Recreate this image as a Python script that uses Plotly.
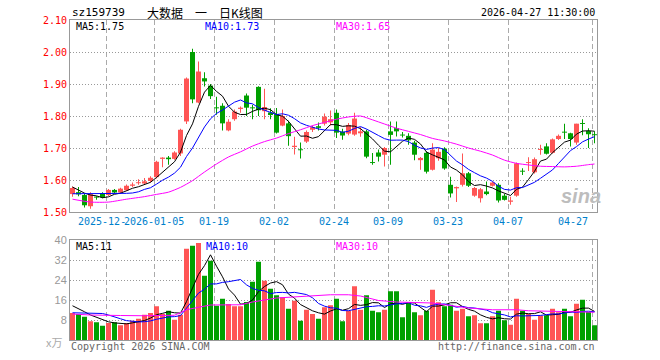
import plotly.graph_objects as go
import pandas as pd

dates = ["2025-12-12","2025-12-15","2025-12-16","2025-12-17","2025-12-18","2025-12-19",
         "2025-12-22","2025-12-23","2025-12-24","2025-12-25","2025-12-26","2025-12-29",
         "2025-12-30","2025-12-31",
         "2026-01-05","2026-01-06","2026-01-07","2026-01-08","2026-01-09","2026-01-12",
         "2026-01-13","2026-01-14","2026-01-15","2026-01-16","2026-01-19","2026-01-20",
         "2026-01-21","2026-01-22","2026-01-23","2026-01-26","2026-01-27","2026-01-28",
         "2026-01-29","2026-01-30",
         "2026-02-02","2026-02-03","2026-02-04","2026-02-05","2026-02-06","2026-02-09",
         "2026-02-10","2026-02-11","2026-02-12","2026-02-13","2026-02-24","2026-02-25",
         "2026-02-26","2026-02-27",
         "2026-03-02","2026-03-03","2026-03-04","2026-03-05","2026-03-06","2026-03-09",
         "2026-03-10","2026-03-11","2026-03-12","2026-03-13","2026-03-16","2026-03-17",
         "2026-03-18","2026-03-19","2026-03-20","2026-03-23","2026-03-24","2026-03-25",
         "2026-03-26","2026-03-27","2026-03-30","2026-03-31",
         "2026-04-01","2026-04-02","2026-04-03","2026-04-07","2026-04-08","2026-04-09",
         "2026-04-10","2026-04-13","2026-04-14","2026-04-15","2026-04-16","2026-04-17",
         "2026-04-20","2026-04-21","2026-04-22","2026-04-23","2026-04-24","2026-04-27"]

open_ = [1.556,1.562,1.553,1.518,1.547,1.559,1.553,1.569,1.561,1.568,
         1.582,1.590,1.589,1.597,1.609,1.666,1.670,1.666,1.683,1.783,
         2.000,1.842,1.918,1.895,1.827,1.832,1.755,1.790,1.822,1.864,
         1.827,1.891,1.815,1.811,1.806,1.770,1.777,1.703,1.696,1.720,
         1.757,1.768,1.776,1.780,1.810,1.751,1.745,1.742,1.746,1.752,
         1.656,1.686,1.679,1.752,1.762,1.741,1.738,1.717,1.662,1.685,
         1.632,1.668,1.698,1.585,1.574,1.585,1.621,1.551,1.543,1.564,
         1.582,1.585,1.551,1.532,1.551,1.628,1.653,1.624,1.694,1.705,
         1.685,1.728,1.751,1.746,1.717,1.777,1.753,1.742]
high = [1.580,1.578,1.558,1.562,1.549,1.562,1.572,1.572,1.576,1.586,
        1.592,1.602,1.606,1.612,1.660,1.671,1.675,1.690,1.760,1.920,
        2.010,1.970,1.937,1.900,1.860,1.840,1.790,1.820,1.830,1.870,
        1.835,1.893,1.885,1.824,1.825,1.820,1.785,1.735,1.717,1.755,
        1.770,1.780,1.808,1.817,1.820,1.760,1.778,1.810,1.765,1.757,
        1.684,1.695,1.703,1.783,1.783,1.750,1.746,1.723,1.672,1.690,
        1.715,1.700,1.702,1.610,1.580,1.683,1.625,1.578,1.575,1.595,
        1.595,1.590,1.556,1.548,1.655,1.637,1.671,1.670,1.710,1.715,
        1.730,1.742,1.776,1.748,1.776,1.790,1.762,1.752]
low = [1.548,1.549,1.514,1.510,1.538,1.543,1.550,1.558,1.558,1.566,
       1.578,1.585,1.585,1.592,1.605,1.640,1.648,1.663,1.675,1.775,
       1.840,1.840,1.892,1.853,1.804,1.755,1.752,1.785,1.810,1.800,
       1.790,1.800,1.790,1.790,1.745,1.768,1.707,1.680,1.667,1.716,
       1.750,1.755,1.770,1.770,1.731,1.726,1.740,1.738,1.735,1.668,
       1.648,1.658,1.642,1.648,1.736,1.733,1.710,1.662,1.632,1.620,
       1.630,1.660,1.632,1.545,1.531,1.580,1.578,1.548,1.530,1.552,
       1.580,1.530,1.536,1.523,1.548,1.616,1.628,1.620,1.679,1.680,
       1.683,1.725,1.728,1.705,1.710,1.740,1.700,1.715]
close = [1.575,1.555,1.521,1.556,1.545,1.546,1.569,1.561,1.573,1.582,
         1.586,1.593,1.596,1.607,1.657,1.670,1.665,1.686,1.757,1.917,
         1.852,1.939,1.908,1.862,1.824,1.777,1.782,1.814,1.826,1.826,
         1.824,1.818,1.828,1.803,1.748,1.800,1.737,1.707,1.693,1.750,
         1.765,1.763,1.798,1.790,1.748,1.739,1.772,1.792,1.752,1.673,
         1.653,1.673,1.700,1.741,1.752,1.739,1.724,1.679,1.669,1.626,
         1.695,1.688,1.636,1.558,1.578,1.621,1.582,1.575,1.571,1.556,
         1.592,1.536,1.538,1.536,1.652,1.626,1.656,1.665,1.697,1.682,
         1.727,1.738,1.748,1.728,1.776,1.775,1.743,1.740]
volume = [10.8,10.4,9.3,7.5,7.1,5.7,6.8,7.1,5.9,6.8,
          7.7,8.5,10.1,10.8,13.5,10.4,11.7,8.1,10.1,36.5,
          37.7,38.8,25.7,31.7,13.7,16.5,14.4,13.5,13.5,15.2,
          23.3,31.3,23.7,20.5,17.9,17.1,12.5,15.7,7.7,12.1,
          10.4,8.5,13.1,13.9,16.5,7.5,11.7,21.5,12.1,17.9,
          11.7,11.1,12.1,19.5,19.5,9.1,14.8,11.1,9.9,11.7,
          20.1,15.1,13.5,14.1,11.7,12.5,9.5,9.9,6.7,6.7,
          9.5,11.7,7.9,6.1,16.5,11.7,10.4,8.1,9.7,9.9,
          12.5,11.1,12.5,9.5,14.5,16.1,11.2,5.9]

ma5_head = [1.578, 1.569, 1.559, 1.553]
ma10_head = [1.557, 1.557, 1.557, 1.557, 1.557, 1.557, 1.557, 1.558, 1.558]
ma30_idx = [0, 3, 6, 9, 12, 14, 16, 18, 20, 22, 24, 26, 28, 30, 32, 34, 36, 38, 40, 42,
            44, 46, 48, 50, 52, 54, 56, 58, 60, 62, 64, 66, 68, 70, 72, 74, 76, 78, 80,
            82, 84, 86, 87]
ma30_val = [1.540, 1.531, 1.531, 1.540, 1.548, 1.555, 1.562, 1.577, 1.598, 1.625, 1.650,
            1.672, 1.688, 1.706, 1.720, 1.731, 1.745, 1.757, 1.770, 1.780, 1.790, 1.797,
            1.800, 1.788, 1.775, 1.762, 1.752, 1.742, 1.730, 1.722, 1.712, 1.700, 1.690,
            1.678, 1.662, 1.652, 1.647, 1.643, 1.642, 1.641, 1.643, 1.648, 1.650]
vma5_head = [13.7, 12.6, 11.3, 10.0]
vma10_head = [10.9, 10.9, 10.9, 10.9, 10.9, 10.6, 10.0, 9.4, 8.5]
vma30_idx = [0, 3, 8, 12, 17, 19, 21, 23, 28, 30, 34, 38, 43, 46, 48, 51, 54, 60, 63,
             66, 70, 74, 76, 82, 87]
vma30_val = [10.4, 10.0, 9.8, 9.7, 9.9, 12.1, 13.1, 14.0, 14.1, 15.2, 16.8, 17.5, 18.1,
             18.1, 17.6, 15.8, 15.2, 14.8, 13.7, 12.8, 12.1, 12.1, 11.7, 11.5, 11.1]

tick_dates = ["2025-12-22", "2026-01-05", "2026-01-19", "2026-02-02", "2026-02-24",
              "2026-03-09", "2026-03-23", "2026-04-07", "2026-04-27"]
# the first label is partly hidden behind the second one in the original
tick_labels = ["2025-12-", "2026-01-05", "01-19", "02-02", "02-24",
               "03-09", "03-23", "04-07", "04-27"]
price_ticks = [1.50, 1.60, 1.70, 1.80, 1.90, 2.00, 2.10]
vol_ticks = [8, 16, 24, 32, 40]

title_code = "sz159739"
title_name = "大数据\u3000一\u3000日K线图"
stamp = "2026-04-27 11:30:00"
ma_price_labels = ["MA5:1.75", "MA10:1.73", "MA30:1.65"]
ma_vol_labels = ["MA5:11", "MA10:10", "MA30:10"]

# ---------------------------------------------------------------
RED = "#ff5555"
GREEN = "#00a000"
MONO = "DejaVu Sans Mono"
n = len(dates)
x = list(range(n))
colors = [RED if c >= o else GREEN for o, c in zip(open_, close)]

s_close = pd.Series(close)
ma5 = s_close.rolling(5).mean().tolist()
ma10 = s_close.rolling(10).mean().tolist()
ma5[:len(ma5_head)] = ma5_head
ma10[:len(ma10_head)] = ma10_head
s_vol = pd.Series(volume)
vma5 = s_vol.rolling(5).mean().tolist()
vma10 = s_vol.rolling(10).mean().tolist()
vma5[:len(vma5_head)] = vma5_head
vma10[:len(vma10_head)] = vma10_head

fig = go.Figure()
# wicks
fig.add_trace(go.Bar(x=x, y=[h - l for h, l in zip(high, low)], base=low, width=1 / 6,
                     marker=dict(color=colors, line=dict(width=0)), xaxis="x", yaxis="y"))
# bodies
fig.add_trace(go.Bar(x=x, y=[max(abs(c - o), 0.003) for o, c in zip(open_, close)],
                     base=[min(o, c) for o, c in zip(open_, close)], width=5 / 6,
                     marker=dict(color=colors, line=dict(width=0)), xaxis="x", yaxis="y"))
fig.add_trace(go.Scatter(x=x, y=ma5, mode="lines", line=dict(color="#000000", width=1),
                         xaxis="x", yaxis="y"))
fig.add_trace(go.Scatter(x=x, y=ma10, mode="lines", line=dict(color="#0000ff", width=1),
                         xaxis="x", yaxis="y"))
fig.add_trace(go.Scatter(x=ma30_idx, y=ma30_val, mode="lines",
                         line=dict(color="#ff00ff", width=1, shape="spline", smoothing=0.6),
                         xaxis="x", yaxis="y"))
# volume
fig.add_trace(go.Bar(x=x, y=volume, width=5 / 6, marker=dict(color=colors, line=dict(width=0)),
                     xaxis="x2", yaxis="y2"))
fig.add_trace(go.Scatter(x=x, y=vma5, mode="lines", line=dict(color="#000000", width=1),
                         xaxis="x2", yaxis="y2"))
fig.add_trace(go.Scatter(x=x, y=vma10, mode="lines", line=dict(color="#0000ff", width=1),
                         xaxis="x2", yaxis="y2"))
fig.add_trace(go.Scatter(x=vma30_idx, y=vma30_val, mode="lines",
                         line=dict(color="#ff00ff", width=1), xaxis="x2", yaxis="y2"))

grid_x = [dates.index(d) - 0.35 for d in tick_dates]
xr = [-0.4167, n - 1 + 0.4167]
common_x = dict(range=xr, tickvals=grid_x, showticklabels=False, ticks="",
                showgrid=True, gridcolor="#aaaaaa", griddash="5px,3px", gridwidth=1,
                showline=True, linecolor="#999999", linewidth=1, mirror=True,
                zeroline=False, fixedrange=True)
fig.update_layout(
    width=660, height=360,
    margin=dict(l=70, r=63, t=20, b=20),
    paper_bgcolor="white", plot_bgcolor="white",
    showlegend=False, barmode="overlay", hovermode=False,
    xaxis=dict(domain=[0, 1], anchor="y", **common_x),
    xaxis2=dict(domain=[0, 1], anchor="y2", **common_x),
    yaxis=dict(domain=[0.4, 1], anchor="x", range=[1.50, 2.10], tickvals=price_ticks,
               ticktext=["%.2f" % v for v in price_ticks], ticks="", fixedrange=True,
               tickfont=dict(family=MONO, size=10, color="#ff0000"),
               showgrid=True, gridcolor="#999999", griddash="1px,2px", gridwidth=1,
               showline=True, linecolor="#999999", mirror=True, zeroline=False),
    yaxis2=dict(domain=[0, 0.3125], anchor="x2", range=[0, 40], tickvals=vol_ticks,
                ticktext=[str(v) for v in vol_ticks], ticks="", fixedrange=True,
                tickfont=dict(family="Liberation Sans", size=11, color="#999999"),
                showgrid=True, gridcolor="#999999", griddash="1px,2px", gridwidth=1,
                showline=True, linecolor="#999999", mirror=True, zeroline=False),
)

def px_x(X):
    return (X - 70) / 527.0

def px_y(Y):
    return (340 - Y) / 320.0

ann = []
def add(text, X, Y, color="#000000", size=10, family=MONO, xanchor="left", **fontkw):
    ann.append(dict(text=text, x=px_x(X), y=px_y(Y), xref="paper", yref="paper",
                    xanchor=xanchor, yanchor="middle", showarrow=False,
                    font=dict(family=family, size=size, color=color, **fontkw)))

add(title_code, 70, 12.5, size=11)
add(title_name, 205, 12.5, size=12, family="Noto Sans CJK SC", xanchor="center")
add(stamp, 597, 12.5, size=10, xanchor="right")
add(ma_price_labels[0], 74, 26, color="#000000")
add(ma_price_labels[1], 203, 26, color="#0000ff")
add(ma_price_labels[2], 334, 26, color="#ff00ff")
add(ma_vol_labels[0], 74, 246.5, color="#000000")
add(ma_vol_labels[1], 204, 246.5, color="#0000ff")
add(ma_vol_labels[2], 334, 246.5, color="#ff00ff")
add("Copyright 2026 SINA.COM", 69, 346, color="#666666")
add("http://finance.sina.com.cn", 597, 346, color="#666666", xanchor="right")
add("x万", 64, 342, color="#aaaaaa", size=11, family="Noto Sans CJK SC", xanchor="right")
add("sina", 581, 196, color="#bdbdbd", size=20, family="Liberation Sans",
    xanchor="center", style="italic", weight="bold")

# x-axis date labels
for k, (d, lab) in enumerate(zip(tick_dates, tick_labels)):
    i = dates.index(d)
    if k == 0:
        xpos, xa = i - 0.35 - 5.0, "left"      # visible part starts at the same spot
    elif k == len(tick_dates) - 1:
        xpos, xa = 86.25, "right"
    else:
        xpos, xa = i - 0.35, "center"
    ann.append(dict(text=lab, x=xpos, y=px_y(221), xref="x", yref="paper",
                    xanchor=xa, yanchor="middle", showarrow=False,
                    font=dict(family=MONO, size=10, color="#0080cc")))

fig.update_layout(annotations=ann)
fig.write_html("out.html", config={"displayModeBar": False, "staticPlot": True},
               post_script="document.body.style.margin='0';document.body.style.padding='0';")
